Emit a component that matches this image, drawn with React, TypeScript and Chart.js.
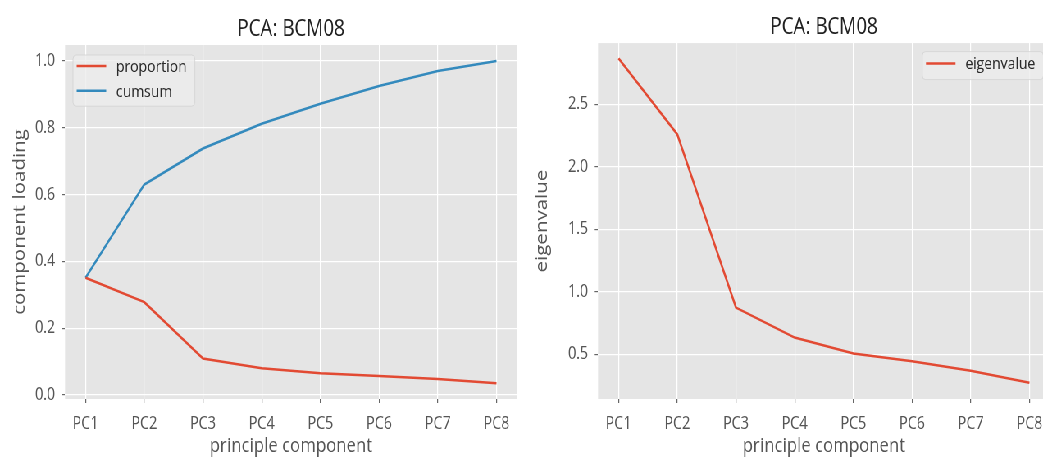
import React, { useEffect, useRef } from 'react';
import { Chart, registerables } from 'chart.js';

Chart.register(...registerables);

// ---- data ----
const categories = ['PC1', 'PC2', 'PC3', 'PC4', 'PC5', 'PC6', 'PC7', 'PC8'];
const proportion = [0.351, 0.278, 0.109, 0.080, 0.065, 0.057, 0.048, 0.035];
const cumsum = [0.351, 0.630, 0.738, 0.812, 0.872, 0.925, 0.970, 1.0];
const eigenvalue = [2.867, 2.26, 0.873, 0.633, 0.505, 0.444, 0.367, 0.271];
const leftYTicks = [0.0, 0.2, 0.4, 0.6, 0.8, 1.0];
const rightYTicks = [0.5, 1.0, 1.5, 2.0, 2.5];
const leftYRange = [-0.012, 1.048];
const rightYRange = [0.141, 2.99];
const xRange = [-0.35, 7.35];
const chartTitle = 'PCA: BCM08';
const xAxisTitle = 'principle component';
const leftYAxisTitle = 'component loading';
const rightYAxisTitle = 'eigenvalue';

// ---- styles ----
const FONT = "'Open Sans', 'DejaVu Sans', sans-serif";
const RED = '#E24A33';
const BLUE = '#348ABD';
const SCALE_X = 0.82;
const H = 457;

const bgPlugin = {
  id: 'plotBg',
  beforeDraw(chart: any) {
    const { ctx, chartArea: a } = chart;
    ctx.save();
    ctx.fillStyle = '#E5E5E5';
    ctx.fillRect(a.left, a.top, a.right - a.left, a.bottom - a.top);
    ctx.restore();
  },
};

const legendPlugin = {
  id: 'boxLegend',
  afterDatasetsDraw(chart: any, _args: any, o: any) {
    const { ctx, chartArea: a } = chart;
    const items = chart.data.datasets;
    ctx.save();
    ctx.font = `${o.fontSize}px ${FONT}`;
    const textW = Math.max(...items.map((d: any) => ctx.measureText(d.label).width));
    const w = o.padLeft + o.lineLen + o.gap + textW + o.padRight;
    const h = o.padTop + (items.length - 1) * o.rowH + o.padBottom;
    const x0 = o.align === 'right' ? a.right - o.inset - w : a.left + o.inset;
    const y0 = a.top + o.insetTop;
    const r = 4;
    ctx.beginPath();
    ctx.moveTo(x0 + r, y0);
    ctx.lineTo(x0 + w - r, y0);
    ctx.quadraticCurveTo(x0 + w, y0, x0 + w, y0 + r);
    ctx.lineTo(x0 + w, y0 + h - r);
    ctx.quadraticCurveTo(x0 + w, y0 + h, x0 + w - r, y0 + h);
    ctx.lineTo(x0 + r, y0 + h);
    ctx.quadraticCurveTo(x0, y0 + h, x0, y0 + h - r);
    ctx.lineTo(x0, y0 + r);
    ctx.quadraticCurveTo(x0, y0, x0 + r, y0);
    ctx.closePath();
    ctx.fillStyle = 'rgba(236,236,236,0.8)';
    ctx.fill();
    ctx.strokeStyle = 'rgba(210,210,210,0.8)';
    ctx.lineWidth = 1;
    ctx.stroke();
    items.forEach((d: any, i: number) => {
      const cy = y0 + o.padTop + i * o.rowH;
      ctx.beginPath();
      ctx.strokeStyle = d.borderColor;
      ctx.lineWidth = 2.5;
      ctx.moveTo(x0 + o.padLeft, cy);
      ctx.lineTo(x0 + o.padLeft + o.lineLen, cy);
      ctx.stroke();
      ctx.fillStyle = '#2a2a2a';
      ctx.textBaseline = 'middle';
      ctx.textAlign = 'left';
      ctx.fillText(d.label, x0 + o.padLeft + o.lineLen + o.gap, cy + 1);
    });
    ctx.restore();
  },
};

function makeConfig(p: any): any {
  return {
    type: 'line',
    data: {
      datasets: p.series.map((s: any) => ({
        label: s.label,
        data: categories.map((_, i) => ({ x: i, y: s.values[i] })),
        borderColor: s.color,
        backgroundColor: s.color,
        borderWidth: 2.5,
        pointRadius: 0,
        tension: 0,
        fill: false,
      })),
    },
    options: {
      animation: false,
      responsive: false,
      devicePixelRatio: 1,
      layout: { padding: { left: 0, right: p.padRight, top: 0, bottom: 0 } },
      plugins: {
        legend: { display: false },
        tooltip: { enabled: false },
        title: {
          display: true,
          text: chartTitle,
          fullSize: false,
          color: '#222',
          font: { family: FONT, size: 23, weight: 'normal', lineHeight: 1.2 },
          padding: { top: p.titleTop, bottom: p.titleBottom },
        },
        boxLegend: p.legend,
      },
      scales: {
        x: {
          type: 'linear',
          min: xRange[0],
          max: xRange[1],
          afterBuildTicks: (s: any) => {
            s.ticks = categories.map((_, i) => ({ value: i }));
          },
          afterFit: (s: any) => {
            s.height = H - p.plotBottom;
          },
          grid: { color: '#FFFFFF', lineWidth: 1.2, tickColor: '#666', tickLength: 4, drawTicks: true },
          border: { display: false },
          ticks: {
            autoSkip: false,
            maxRotation: 0,
            minRotation: 0,
            padding: 10.5,
            color: '#555',
            font: { family: FONT, size: 17.5 },
            callback: (_v: any, i: number) => categories[i],
          },
          title: {
            display: true,
            text: xAxisTitle,
            color: '#555',
            font: { family: FONT, size: 20.5, lineHeight: 1 },
            padding: { top: 0, bottom: 1 },
          },
        },
        y: {
          type: 'linear',
          min: p.yRange[0],
          max: p.yRange[1],
          afterBuildTicks: (s: any) => {
            s.ticks = p.yTicks.map((v: number) => ({ value: v }));
          },
          afterFit: (s: any) => {
            s.width = p.yAxisWidth;
          },
          grid: { color: '#FFFFFF', lineWidth: 1.2, tickColor: '#666', tickLength: 4, drawTicks: true },
          border: { display: false },
          ticks: {
            padding: 8,
            color: '#555',
            font: { family: FONT, size: 17.5 },
            callback: (v: number) => Number(v).toFixed(1),
          },
          title: {
            display: true,
            text: p.yTitle,
            color: '#555',
            font: { family: FONT, size: 20.5, lineHeight: 1 },
            padding: { top: p.yTitlePad, bottom: 0 },
          },
        },
      },
    },
    plugins: [bgPlugin, legendPlugin],
  };
}

function Panel({ left, width, params }: any) {
  const ref = useRef<HTMLCanvasElement>(null);
  useEffect(() => {
    const chart = new Chart(ref.current as HTMLCanvasElement, makeConfig(params));
    return () => chart.destroy();
  }, []);
  return (
    <canvas
      ref={ref}
      width={width}
      height={H}
      style={{ position: 'absolute', left, top: 0, width, height: H }}
    />
  );
}

const leftParams = {
  series: [
    { label: 'proportion', values: proportion, color: RED },
    { label: 'cumsum', values: cumsum, color: BLUE },
  ],
  yRange: leftYRange,
  yTicks: leftYTicks,
  yTitle: leftYAxisTitle,
  yAxisWidth: 79.3,
  yTitlePad: 14,
  padRight: 5.5,
  titleTop: 15.5,
  titleBottom: 1.9,
  plotBottom: 399,
  legend: {
    align: 'left', inset: 9.7, insetTop: 10, padLeft: 4.5, lineLen: 36, gap: 12,
    padRight: 10, padTop: 11, rowH: 24.7, padBottom: 15.5, fontSize: 17,
  },
};

const rightParams = {
  series: [{ label: 'eigenvalue', values: eigenvalue, color: RED }],
  yRange: rightYRange,
  yTicks: rightYTicks,
  yTitle: rightYAxisTitle,
  yAxisWidth: 89.3,
  yTitlePad: 10.75,
  padRight: 4.5,
  titleTop: 13.5,
  titleBottom: 2,
  plotBottom: 399,
  legend: {
    align: 'right', inset: 8, insetTop: 8.5, padLeft: 4.5, lineLen: 36, gap: 12,
    padRight: 10, padTop: 12, rowH: 24.7, padBottom: 16, fontSize: 17,
  },
};

export default function App() {
  return (
    <div
      style={{
        position: 'absolute', left: 0, top: 0, width: 1043, height: H,
        overflow: 'hidden', background: '#fff',
      }}
    >
      <div
        style={{
          position: 'absolute', left: 0, top: 0, width: 1290, height: H,
          transform: `scaleX(${SCALE_X})`, transformOrigin: '0 0',
        }}
      >
        <Panel left={0} width={636} params={leftParams} />
        <Panel left={640} width={645} params={rightParams} />
      </div>
    </div>
  );
}
